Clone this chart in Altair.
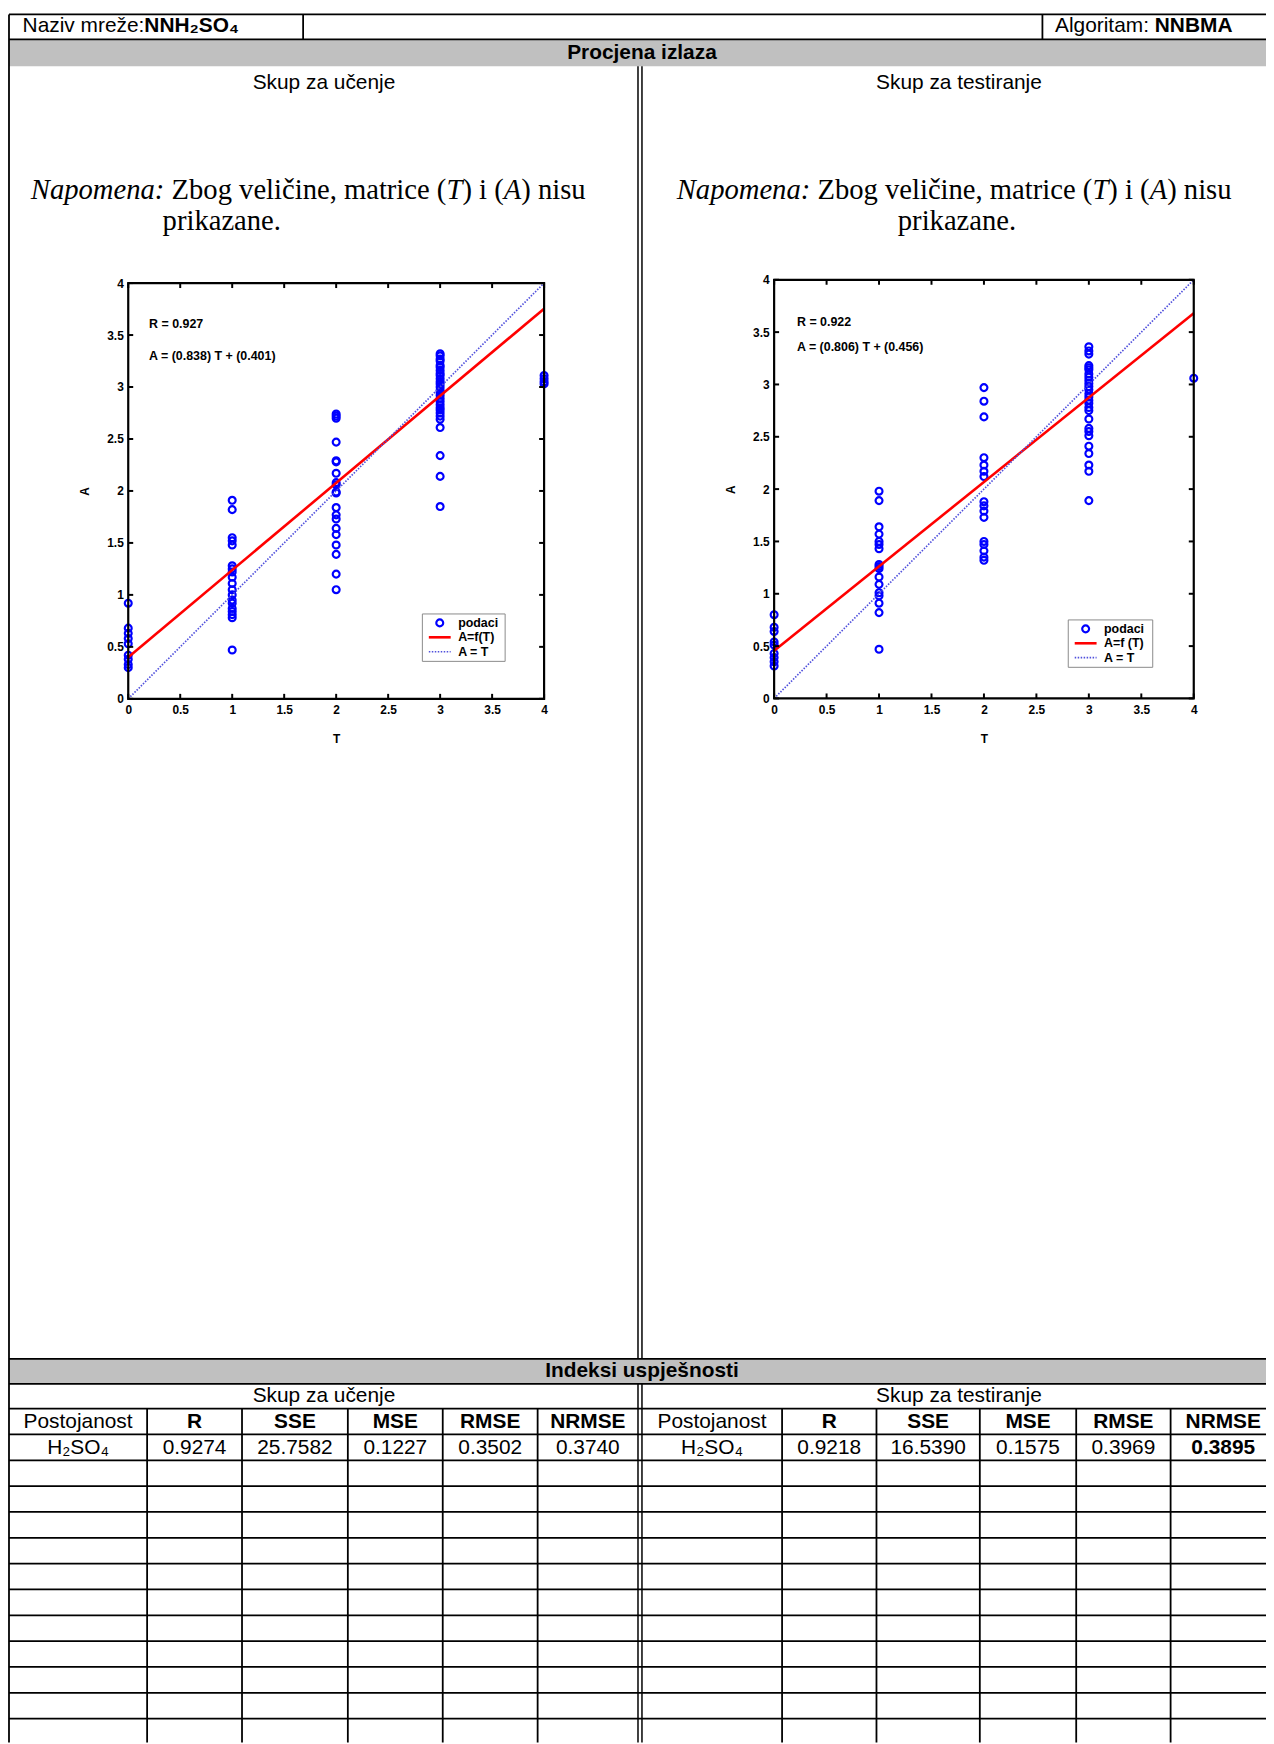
import altair as alt
import pandas as pd

# ---------------- data ----------------
TICKS = [0, 0.5, 1, 1.5, 2, 2.5, 3, 3.5, 4]

# training set (Skup za učenje): A values for each target T
train_A_T0 = [0.92, 0.68, 0.63, 0.58, 0.53, 0.42, 0.38, 0.33, 0.30]
train_A_T1 = [1.91, 1.82, 1.55, 1.52, 1.48, 1.28, 1.25, 1.22, 1.17, 1.11, 1.05,
              1.00, 0.95, 0.92, 0.87, 0.84, 0.81, 0.78, 0.47]
train_A_T2 = [2.74, 2.72, 2.70, 2.47, 2.29, 2.28, 2.17, 2.08, 2.06, 1.99, 1.98,
              1.84, 1.77, 1.73, 1.64, 1.58, 1.48, 1.39, 1.20, 1.05]
train_A_T3 = [3.32, 3.30, 3.27, 3.25, 3.21, 3.19, 3.16, 3.13, 3.11, 3.08, 3.05,
              3.03, 3.00, 2.97, 2.95, 2.92, 2.89, 2.86, 2.83, 2.80, 2.78, 2.75,
              2.72, 2.69, 2.61, 2.34, 2.14, 1.85]
train_A_T4 = [3.11, 3.08, 3.05, 3.03]

# test set (Skup za testiranje)
test_A_T0 = [0.80, 0.68, 0.64, 0.54, 0.51, 0.43, 0.39, 0.35, 0.31]
test_A_T1 = [1.98, 1.89, 1.64, 1.57, 1.50, 1.47, 1.43, 1.28, 1.26, 1.24, 1.16,
             1.09, 1.01, 0.98, 0.91, 0.82, 0.47]
test_A_T2 = [2.97, 2.84, 2.69, 2.30, 2.23, 2.17, 2.12, 1.88, 1.84, 1.79, 1.73,
             1.50, 1.47, 1.41, 1.35, 1.32]
test_A_T3 = [3.36, 3.32, 3.29, 3.18, 3.16, 3.14, 3.10, 3.07, 3.04, 3.01, 2.98,
             2.95, 2.91, 2.88, 2.85, 2.82, 2.78, 2.75, 2.67, 2.58, 2.55, 2.51,
             2.41, 2.34, 2.23, 2.17, 1.89]
test_A_T4 = [3.06]

train_fit = {"slope": 0.838, "intercept": 0.401, "R": "0.927"}
test_fit = {"slope": 0.806, "intercept": 0.456, "R": "0.922"}

metric_header = ["Postojanost", "R", "SSE", "MSE", "RMSE", "NRMSE"]
train_metrics = ["H₂SO₄", "0.9274", "25.7582", "0.1227", "0.3502", "0.3740"]
test_metrics = ["H₂SO₄", "0.9218", "16.5390", "0.1575", "0.3969", "0.3895"]

legend_labels_train = ["podaci", "A=f(T)", "A = T"]
legend_labels_test = ["podaci", "A=f (T)", "A = T"]

# ---------------- layout (chart pixels = page pixels - 8) ----------------
W, H = 1266, 1736
SANS = "Liberation Sans"
SERIF = "Liberation Serif"
LW = 1.8


def pts_frame(groups):
    rows = []
    for t, vals in groups:
        for a in vals:
            rows.append({"T": t, "A": a})
    return pd.DataFrame(rows)


train_df = pts_frame([(0, train_A_T0), (1, train_A_T1), (2, train_A_T2),
                      (3, train_A_T3), (4, train_A_T4)])
test_df = pts_frame([(0, test_A_T0), (1, test_A_T1), (2, test_A_T2),
                     (3, test_A_T3), (4, test_A_T4)])


def IX(f="x"):
    return alt.X(f, type="quantitative", scale=None, axis=None)


def IY(f="y"):
    return alt.Y(f, type="quantitative", scale=None, axis=None)


def text_layer(rows, size=21, weight="normal", style="normal", align="center",
               baseline="middle", font=SANS, color="black"):
    df = pd.DataFrame(rows, columns=["x", "y", "label"])
    return alt.Chart(df).mark_text(
        font=font, fontSize=size, fontWeight=weight, fontStyle=style,
        align=align, baseline=baseline, color=color
    ).encode(x=IX(), y=IY(), text="label:N")


def rules_layer(rows, width=LW, color="black", dash=None):
    df = pd.DataFrame(rows, columns=["x", "x2", "y", "y2"])
    kw = dict(color=color, strokeWidth=width)
    if dash:
        kw["strokeDash"] = dash
    return alt.Chart(df).mark_rule(**kw).encode(
        x=IX("x"), x2="x2:Q", y=IY("y"), y2="y2:Q")


layers = []

# gray bands
bands = pd.DataFrame([{"x": 1, "x2": 1280, "y": 26, "y2": 53},
                      {"x": 1, "x2": 1280, "y": 1354, "y2": 1379}])
layers.append(alt.Chart(bands).mark_rect(color="#c0c0c0").encode(
    x=IX("x"), x2="x2:Q", y=IY("y"), y2="y2:Q"))

# form lines
form = []
form.append((1, 1280, 1, 1))          # top border
form.append((1, 1280, 26, 26))        # under header row
form.append((1, 1, 1, 1740))          # left border
form.append((297, 297, 1, 26))        # header dividers
form.append((1041, 1041, 1, 26))
row_lines = [1354, 1379, 1404, 1430, 1456, 1482, 1508, 1534, 1560, 1586,
             1612, 1638, 1664, 1690, 1716]
for yv in row_lines:
    form.append((1, 1280, yv, yv))
col_lines = [140, 235.5, 342, 437.5, 533, 779, 874, 978, 1075, 1170]
for xv in col_lines:
    form.append((xv, xv, 1404, 1740))
layers.append(rules_layer(form))
dbl = []
for xv in [634, 638]:
    dbl.append((xv, xv, 53, 1354))
    dbl.append((xv, xv, 1379, 1740))
layers.append(rules_layer(dbl, width=1.5))

# header texts
layers.append(text_layer([(14.7, 13, "Naziv mreže:"), (1053.7, 13, "Algoritam:")],
                         align="left"))
layers.append(text_layer([(137.2, 13, "NNH₂SO₄"), (1154.1, 13, "NNBMA")],
                         weight="bold", align="left"))
layers.append(text_layer([(638, 39.5, "Procjena izlaza"),
                          (638, 1366.5, "Indeksi uspješnosti")], weight="bold"))
layers.append(text_layer([(318, 70, "Skup za učenje"), (957, 70, "Skup za testiranje"),
                          (318, 1391.5, "Skup za učenje"), (957, 1391.5, "Skup za testiranje")]))

# Napomena note (mixed italic / regular Times)
FS = 28.8
segments = [("Napomena:", 0.0, "italic"), ("Zbog veličine, matrice (", 4.916, "normal"),
            ("T", 14.525, "italic"), (") i (", 15.081, "normal"),
            ("A", 16.525, "italic"), (") nisu", 17.136, "normal")]
ital, reg = [], []
for x0 in [23, 673]:
    for txt, off, st in segments:
        (ital if st == "italic" else reg).append((x0 + off * FS, 187, txt))
reg.append((155.6, 218, "prikazane."))
layers.append(text_layer(ital, size=FS, style="italic", align="left",
                         baseline="alphabetic", font=SERIF))
layers.append(text_layer(reg, size=FS, align="left", baseline="alphabetic", font=SERIF))
layers.append(text_layer([(955, 218, "prikazane.")], size=FS, baseline="alphabetic",
                         font=SERIF))

# bottom table
left_cx = [70.5, 187.75, 288.75, 389.75, 485.25, 583.5]
right_cx = [708.5, 826.5, 926, 1026.5, 1122.5, 1223]
hdr_y, val_y = 1417.5, 1443.5
reg_rows, bold_rows = [], []
for cxs, vals in [(left_cx, train_metrics), (right_cx, test_metrics)]:
    reg_rows.append((cxs[0], hdr_y, metric_header[0]))
    for cx, h in zip(cxs[1:], metric_header[1:]):
        bold_rows.append((cx, hdr_y, h))
for cx, v in zip(left_cx, train_metrics):
    reg_rows.append((cx, val_y, v))
for cx, v in zip(right_cx[:-1], test_metrics[:-1]):
    reg_rows.append((cx, val_y, v))
bold_rows.append((right_cx[-1], val_y, test_metrics[-1]))
layers.append(text_layer(reg_rows))
layers.append(text_layer(bold_rows, weight="bold"))


# ---------------- scatter plots ----------------
def plot_layers(df, fit, xr, yr, ann, leg, labels):
    xs = alt.Scale(domain=[0, 4], range=xr, nice=False, zero=False)
    ys = alt.Scale(domain=[0, 4], range=yr, nice=False, zero=False)

    def X(f, axis=None):
        return alt.X(f, type="quantitative", scale=xs, axis=axis)

    def Y(f, axis=None):
        return alt.Y(f, type="quantitative", scale=ys, axis=axis)

    common = dict(values=TICKS, format="~g", ticks=False, tickSize=0, domain=False,
                  grid=False, labelFont=SANS, labelFontSize=12, labelFontWeight="bold",
                  labelColor="black", labelFlush=False, labelOverlap=False,
                  titleFont=SANS, titleFontSize=12, titleFontWeight="bold",
                  titleColor="black", titleAlign="center", titleBaseline="middle")
    xaxis = alt.Axis(orient="bottom", offset=yr[0] - H, labelPadding=6, title="T",
                     titleX=(xr[0] + xr[1]) / 2, titleY=40, titleAngle=0, **common)
    yaxis = alt.Axis(orient="left", offset=-xr[0], labelPadding=5, title="A",
                     titleX=-44, titleY=(yr[0] + yr[1]) / 2, titleAngle=270, **common)

    out = []
    out.append(alt.Chart(df).mark_point(shape="circle", filled=False, color="#0000ff",
                                        size=48, strokeWidth=2.2, opacity=1).encode(
        x=X("T", xaxis), y=Y("A", yaxis)))
    fit_df = pd.DataFrame({"T": [0, 4],
                           "A": [fit["intercept"], 4 * fit["slope"] + fit["intercept"]]})
    out.append(alt.Chart(fit_df).mark_line(color="#ff0000", strokeWidth=2.6).encode(
        x=X("T"), y=Y("A")))
    diag = pd.DataFrame({"T": [0, 4], "A": [0, 4]})
    out.append(alt.Chart(diag).mark_line(color="#5050dc", strokeWidth=1.7,
                                         strokeDash=[1.5, 1.5]).encode(x=X("T"), y=Y("A")))
    frame = pd.DataFrame({"lo": [0], "hi": [4]})
    out.append(alt.Chart(frame).mark_rect(filled=False, stroke="black", strokeWidth=2.2).encode(
        x=X("lo"), x2="hi:Q", y=Y("lo"), y2="hi:Q"))
    tk = pd.DataFrame({"v": TICKS, "lo": 0, "hi": 4})
    tick_style = dict(color="black", strokeWidth=2)
    out.append(alt.Chart(tk).mark_rule(y2Offset=-5, **tick_style).encode(
        x=X("v"), y=Y("lo"), y2="lo:Q"))
    out.append(alt.Chart(tk).mark_rule(y2Offset=5, **tick_style).encode(
        x=X("v"), y=Y("hi"), y2="hi:Q"))
    out.append(alt.Chart(tk).mark_rule(x2Offset=5, **tick_style).encode(
        y=Y("v"), x=X("lo"), x2="lo:Q"))
    out.append(alt.Chart(tk).mark_rule(x2Offset=-5, **tick_style).encode(
        y=Y("v"), x=X("hi"), x2="hi:Q"))

    # annotations
    out.append(text_layer([(ann[0], ann[1], "R = " + fit["R"]),
                           (ann[0], ann[2], "A = (%.3f) T + (%.3f)" % (fit["slope"], fit["intercept"]))],
                          size=12.5, weight="bold", align="left"))
    # legend box
    lx0, lx1, ly0, ly1 = leg
    box = pd.DataFrame([{"x": lx0, "x2": lx1, "y": ly0, "y2": ly1}])
    out.append(alt.Chart(box).mark_rect(fill="white", stroke="#8a8a8a", strokeWidth=1).encode(
        x=IX("x"), x2="x2:Q", y=IY("y"), y2="y2:Q"))
    r1, r2, r3 = ly0 + 9, ly0 + 23.5, ly0 + 38
    sym = pd.DataFrame([{"x": lx0 + 17.5, "y": r1}])
    out.append(alt.Chart(sym).mark_point(shape="circle", filled=False, color="#0000ff",
                                         size=48, strokeWidth=2.2, opacity=1).encode(x=IX(), y=IY()))
    out.append(rules_layer([(lx0 + 6.5, lx0 + 28.5, r2, r2)], width=2.6, color="#ff0000"))
    out.append(rules_layer([(lx0 + 6.5, lx0 + 28.5, r3, r3)], width=1.7, color="#5050dc",
                           dash=[1.5, 1.5]))
    out.append(text_layer([(lx0 + 36, r1, labels[0]), (lx0 + 36, r2, labels[1]),
                           (lx0 + 36, r3, labels[2])], size=12.5, weight="bold", align="left"))
    return out


layers += plot_layers(train_df, train_fit, [121, 539.5], [689.7, 271.3],
                      (142, 312.5, 344.7), (417, 500.3, 604.3, 652), legend_labels_train)
layers += plot_layers(test_df, test_fit, [771, 1193.3], [689.3, 268],
                      (794, 310.2, 335.8), (1067, 1152, 610.3, 658), legend_labels_test)

chart = alt.layer(*layers).properties(
    width=W, height=H, autosize=alt.AutoSizeParams(type="none"), padding=0
).resolve_scale(x="independent", y="independent").configure_view(stroke=None)

chart.save("out.html", embed_options={"renderer": "svg", "actions": False})
